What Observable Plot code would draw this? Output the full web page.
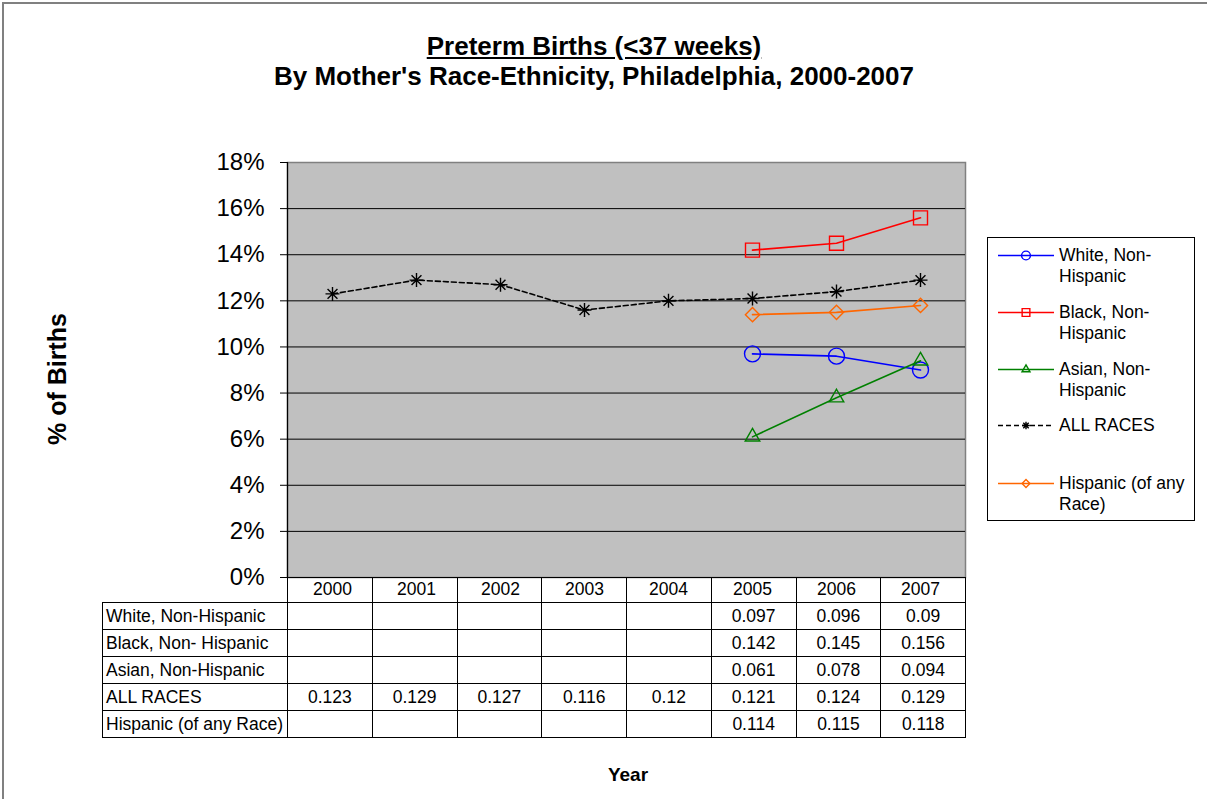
<!DOCTYPE html>
<html>
<head>
<meta charset="utf-8">
<script src="https://cdn.jsdelivr.net/npm/d3@7"></script>
<script src="https://cdn.jsdelivr.net/npm/@observablehq/plot@0.6"></script>
<style>
  html, body { margin: 0; padding: 0; background: #fff; overflow: hidden; }
  body { font-family: "Liberation Sans", Arial, sans-serif; color: #000; }
  #wrap { position: relative; width: 1207px; height: 799px; overflow: hidden; }
  #frame { position: absolute; left: 2px; top: 2px; width: 1400px; height: 1000px; border: 2px solid #808080; box-sizing: border-box; }
  #title { position: absolute; left: 0; width: 1188px; top: 31px; text-align: center; font-weight: bold; font-size: 26px; line-height: 30px; }
  #title .u { text-decoration: underline; }
  #plot { position: absolute; left: 0; top: 0; }
  #ylab { position: absolute; left: 57px; top: 379px; transform: translate(-50%, -50%) rotate(-90deg); font-weight: bold; font-size: 25px; white-space: nowrap; }
  #xlab { position: absolute; left: 628px; top: 775px; transform: translate(-50%, -50%); font-weight: bold; font-size: 19px; }
  #legend { position: absolute; left: 987px; top: 237px; width: 208px; height: 284px; border: 1px solid #000; box-sizing: border-box; background: #fff; }
  .item { position: absolute; left: 9px; }
  .item svg { position: absolute; left: 0; top: 0; }
  .item .lt { position: absolute; left: 62px; top: 0; font-size: 17.5px; line-height: 21px; width: 145px; white-space: nowrap; }
  #table { position: absolute; left: 102px; top: 577px; border-collapse: collapse; table-layout: fixed; font-size: 17.5px; }
  #table td { border: 1px solid #000; padding: 0; height: 26px; text-align: center; }
  #table td.lab { text-align: left; padding-left: 3px; white-space: nowrap; }
  #table tr.hdr td { height: 24px; }
  #table tr.hdr td.blank { border: none; }
</style>
</head>
<body>
<div id="wrap">
  <div id="frame"></div>
  <div id="title"><span class="u">Preterm Births (&lt;37 weeks)</span><br>By Mother's Race-Ethnicity, Philadelphia, 2000-2007</div>
  <div id="plot"></div>
  <div id="ylab">% of Births</div>
  <div id="xlab">Year</div>
  <div id="legend"></div>
  <table id="table"></table>
</div>
<script>
// ---- data ----
const years = [2000, 2001, 2002, 2003, 2004, 2005, 2006, 2007];
const white    = [null, null, null, null, null, 0.097, 0.096, 0.09];
const black    = [null, null, null, null, null, 0.142, 0.145, 0.156];
const asian    = [null, null, null, null, null, 0.061, 0.078, 0.094];
const allRaces = [0.123, 0.129, 0.127, 0.116, 0.12, 0.121, 0.124, 0.129];
const hispanic = [null, null, null, null, null, 0.114, 0.115, 0.118];
const seriesNames = ["White, Non-Hispanic", "Black, Non- Hispanic", "Asian, Non-Hispanic", "ALL RACES", "Hispanic (of any Race)"];
const legendNames = ["White, Non-<br>Hispanic", "Black, Non-<br>Hispanic", "Asian, Non-<br>Hispanic", "ALL RACES", "Hispanic (of any<br>Race)"];
const yTicks = [0, 0.02, 0.04, 0.06, 0.08, 0.10, 0.12, 0.14, 0.16, 0.18];
const gridTicks = [0, 0.02, 0.04, 0.06, 0.08, 0.10, 0.12, 0.14, 0.16];

// custom 8-armed asterisk symbol
const asterisk = {
  draw(ctx, size) {
    const a = Math.sqrt(size / Math.PI);
    const d = a * 0.7071;
    ctx.moveTo(-a, 0); ctx.lineTo(a, 0);
    ctx.moveTo(0, -a); ctx.lineTo(0, a);
    ctx.moveTo(-d, -d); ctx.lineTo(d, d);
    ctx.moveTo(-d, d); ctx.lineTo(d, -d);
  }
};

const styles = [
  {values: white,    color: "#0000FF", symbol: "circle",   r: 8,   dash: null},
  {values: black,    color: "#FF0000", symbol: "square",   r: 7.9, dash: null},
  {values: asian,    color: "#008000", symbol: "triangle", r: 5.4, dash: null},
  {values: allRaces, color: "#000000", symbol: asterisk,   r: 7,   dash: "5,3"},
  {values: hispanic, color: "#FF6600", symbol: "diamond2", r: 6.4, dash: null}
];

function rows(values) {
  return years.map((y, i) => ({year: y, v: values[i]})).filter(d => d.v != null);
}

const marks = [
  Plot.frame({fill: "#C0C0C0", stroke: "#808080", strokeWidth: 1.5}),
  Plot.ruleY(gridTicks, {stroke: "#000", strokeWidth: 1}),
  Plot.frame({anchor: "left", stroke: "#000", strokeWidth: 1.2}),
  Plot.axisY({ticks: yTicks, tickFormat: d => Math.round(d * 100) + "%", tickSize: 7, tickPadding: 16, fontSize: 24, label: null}),
  Plot.axisX({tickSize: 0, tickPadding: 5, fontSize: 17.5, tickFormat: d => String(d), label: null})
];
for (const s of styles) {
  const data = rows(s.values);
  marks.push(Plot.line(data, {x: "year", y: "v", stroke: s.color, strokeWidth: 1.6, strokeDasharray: s.dash || undefined}));
  marks.push(Plot.dot(data, {x: "year", y: "v", stroke: s.color, fill: "none", strokeWidth: 1.4, symbol: s.symbol, r: s.r}));
}

const chart = Plot.plot({
  width: 1207,
  height: 610,
  marginTop: 162,
  marginLeft: 287,
  marginRight: 242,
  marginBottom: 33,
  style: {fontFamily: "'Liberation Sans', Arial, sans-serif", background: "transparent", color: "#000", overflow: "visible"},
  x: {type: "point", domain: years, padding: 0.5},
  y: {domain: [0, 0.18]},
  marks
});
document.getElementById("plot").appendChild(chart);

// ---- legend ----
const legend = d3.select("#legend");
const itemTops = [7, 64, 121, 177, 235];
styles.forEach((s, i) => {
  const item = legend.append("div").attr("class", "item").style("top", itemTops[i] + "px");
  const svg = item.append("svg").attr("width", 58).attr("height", 21);
  svg.append("line").attr("x1", 1).attr("x2", 57).attr("y1", 10.5).attr("y2", 10.5)
    .attr("stroke", s.color).attr("stroke-width", 1.6).attr("stroke-dasharray", s.dash);
  const sym = typeof s.symbol === "string"
    ? {circle: d3.symbolCircle, square: d3.symbolSquare, triangle: d3.symbolTriangle, diamond2: d3.symbolDiamond2}[s.symbol]
    : s.symbol;
  const scale = 0.55;
  svg.append("path").attr("transform", "translate(29,10.5)")
    .attr("d", d3.symbol(sym, Math.PI * (s.r * scale) ** 2)())
    .attr("fill", "none").attr("stroke", s.color).attr("stroke-width", 1.4);
  item.append("div").attr("class", "lt").html(legendNames[i]);
});

// ---- data table ----
const table = d3.select("#table");
const cg = table.append("colgroup");
cg.append("col").style("width", "185px");
years.forEach(() => cg.append("col").style("width", "84.75px"));
const hdr = table.append("tr").attr("class", "hdr");
hdr.append("td").attr("class", "blank");
years.forEach(() => hdr.append("td"));
styles.forEach((s, i) => {
  const tr = table.append("tr");
  tr.append("td").attr("class", "lab").text(seriesNames[i]);
  s.values.forEach(v => tr.append("td").text(v == null ? "" : String(v)));
});
</script>
</body>
</html>
